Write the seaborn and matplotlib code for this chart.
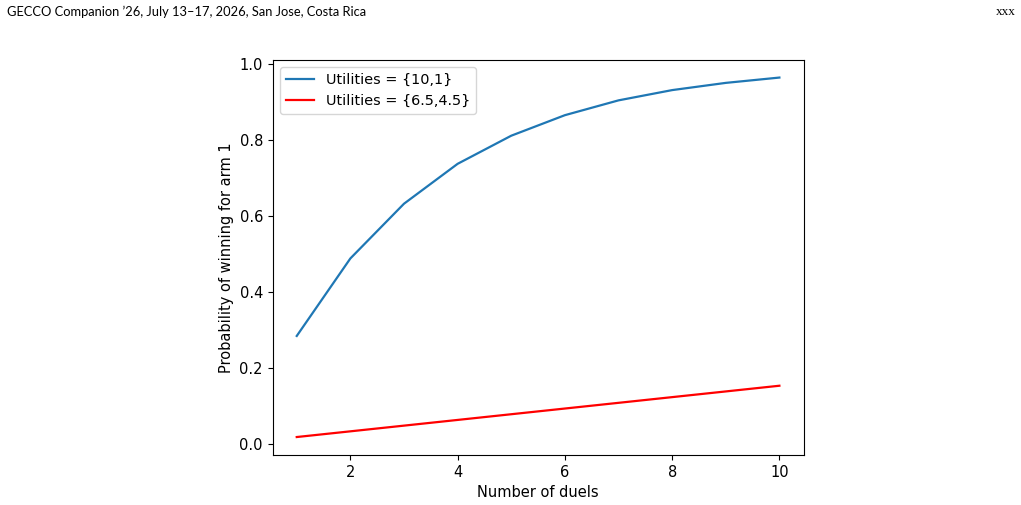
import pandas as pd
import seaborn as sns
import matplotlib.pyplot as plt

# values
duels = [1, 2, 3, 4, 5, 6, 7, 8, 9, 10]
win_10_1 = [0.284, 0.488, 0.632, 0.737, 0.811, 0.865, 0.904, 0.931, 0.950, 0.964]
win_65_45 = [0.018, 0.033, 0.048, 0.063, 0.078, 0.093, 0.108, 0.123, 0.138, 0.153]
labels = ['Utilities = {10,1}', 'Utilities = {6.5,4.5}']
colors = ['#1f77b4', 'red']

df = pd.DataFrame({
    'duels': duels * 2,
    'prob': win_10_1 + win_65_45,
    'series': [labels[0]] * len(duels) + [labels[1]] * len(duels),
})

fig = plt.figure(figsize=(10.21, 5.05), dpi=100)
ax = fig.add_axes([0.267, 0.099, 0.52, 0.783])

fs = 10.5
sns.lineplot(data=df, x='duels', y='prob', hue='series', palette=colors, ax=ax, linewidth=1.6)
ax.set_xlabel('Number of duels', fontsize=fs)
ax.set_ylabel('Probability of winning for arm 1', fontsize=fs)
ax.tick_params(labelsize=fs)
ax.set_xticks([2, 4, 6, 8, 10])
ax.set_yticks([0.0, 0.2, 0.4, 0.6, 0.8, 1.0])
ax.legend(loc='upper left', fontsize=10.4)

# page header
fig.text(0.007, 0.976, 'GECCO Companion \u201926, July 13\u201317, 2026, San Jose, Costa Rica',
         family='Lato', fontsize=9.3, va='center', ha='left')
fig.text(0.995, 0.976, 'xxx', family='Liberation Serif', fontsize=9.5, va='center', ha='right')

fig.savefig('out.png', dpi=100)
